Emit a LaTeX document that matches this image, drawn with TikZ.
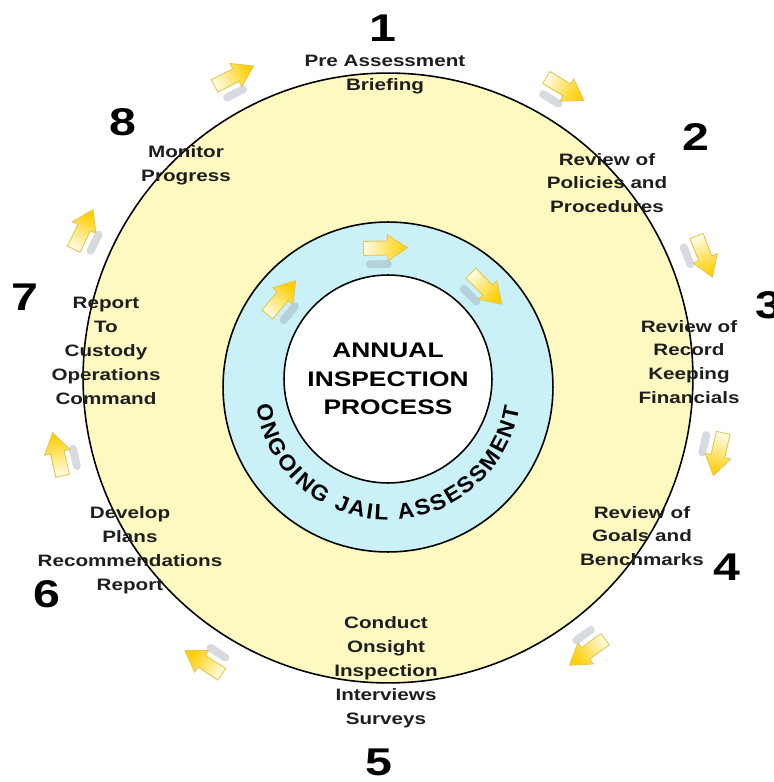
\documentclass[tikz,border=0pt]{standalone}
\usepackage{fontspec}
\newfontfamily\labelfont{Liberation Sans}[FakeStretch=1.25]
\newfontfamily\ringfont{Liberation Sans}[FakeStretch=1.05]
\usepackage{tikz,xcolor}
\usetikzlibrary{decorations.text}

\definecolor{ringyellow}{RGB}{254,249,192}
\definecolor{ringblue}{RGB}{202,241,247}
\definecolor{arrowhead}{RGB}{255,206,0}
\definecolor{arrowtail}{RGB}{255,252,228}
\definecolor{arrowedge}{RGB}{226,198,80}
\definecolor{shadowgray}{RGB}{140,150,170}
\definecolor{labeltext}{RGB}{30,30,30}

\tikzset{
  stage/.style={align=center, text=labeltext, font=\labelfont\bfseries\fontsize{9.4}{13.6}\selectfont},
  stagenum/.style={font=\labelfont\bfseries\fontsize{22}{22}\selectfont},
  ring/.style={circle, draw, line width=0.9pt, inner sep=0pt},
  blockarrow/.style={draw=arrowedge, line width=0.5pt, bottom color=arrowtail, top color=arrowhead},
  arrowshadow/.style={line cap=round, draw=shadowgray, opacity=0.35, line width=4.5pt},
}

\begin{document}
\begin{tikzpicture}[x=0.02cm, y=0.02cm]
    \useasboundingbox (0,0) rectangle (774,782);

    % rings
    \node[ring, fill=ringyellow, minimum size=12.2cm] (outerring) at (388,404) {};
    \node[ring, fill=ringblue, minimum size=6.6cm]    (innerring) at (388,395) {};
    \node[ring, fill=white, minimum size=4.16cm]      (hub)       at (388,403) {};

    \node[align=center, font=\labelfont\bfseries\fontsize{12}{16.4}\selectfont] (title) at (hub.center) {ANNUAL\\INSPECTION\\PROCESS};

    \path[decorate, decoration={text along path, text align={fit to path},
        text={|\ringfont\bfseries\fontsize{12.5}{12.5}\selectfont|ONGOING JAIL ASSESSMENT}}]
        ([shift={(188:133)}]innerring.center) arc[start angle=188, end angle=351, radius=2.66cm];

    % arrows round the outer ring
    \foreach \ang [evaluate=\ang as \shang using \ang-180] in {117,58.5,21,-13,-54,-123,193,154} {
        \begin{scope}[shift={(outerring.center)}, rotate=\ang, shift={(339,0)}, rotate=-90]
            \draw[arrowshadow] (-16,-16) -- (2,-16);
            \draw[blockarrow, shading angle=\shang] (-22,-7) -- (2,-7) -- (2,-13) -- (22,0) -- (2,13) -- (2,7) -- (-22,7) -- cycle;
        \end{scope}
    }
    % arrows in the blue ring
    \foreach \ang [evaluate=\ang as \shang using \ang-180] in {140,91,45} {
        \begin{scope}[shift={(innerring.center)}, rotate=\ang, shift={(139,0)}, rotate=-90]
            \draw[arrowshadow] (-16,-16) -- (2,-16);
            \draw[blockarrow, shading angle=\shang] (-22,-7) -- (2,-7) -- (2,-13) -- (22,0) -- (2,13) -- (2,7) -- (-22,7) -- cycle;
        \end{scope}
    }

    % stages
    \node[stage] (stage 1) at (385,707) {Pre Assessment\\Briefing};
    \node[stage] (stage 2) at (607,599) {Review of\\Policies and\\Procedures};
    \node[stage] (stage 3) at (689,420) {Review of\\Record\\Keeping\\Financials};
    \node[stage] (stage 4) at (642,246) {Review of\\Goals and\\Benchmarks};
    \node[stage] (stage 5) at (386,110) {Conduct\\Onsight\\Inspection\\Interviews\\Surveys};
    \node[stage] (stage 6) at (130,232) {Develop\\Plans\\Recommendations\\Report};
    \node[stage] (stage 7) at (106,431) {Report\\To\\Custody\\Operations\\Command};
    \node[stage] (stage 8) at (186,617) {Monitor\\Progress};

    % numbers
    \node[stagenum] (num 1) at (383,754) {1};
    \node[stagenum] (num 2) at (696,645) {2};
    \node[stagenum] (num 3) at (769,477) {3};
    \node[stagenum] (num 4) at (727,215) {4};
    \node[stagenum] (num 5) at (379,20)  {5};
    \node[stagenum] (num 6) at (47,188)  {6};
    \node[stagenum] (num 7) at (25,485)  {7};
    \node[stagenum] (num 8) at (123,660) {8};
\end{tikzpicture}
\end{document}
